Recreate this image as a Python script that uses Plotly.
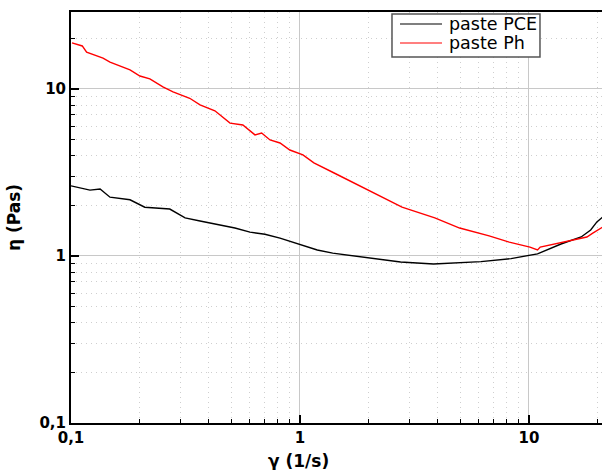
import plotly.graph_objects as go

# shear rate (1/s) and viscosity (Pa s)
pce_x = [0.1, 0.121, 0.134, 0.148, 0.181, 0.21, 0.27, 0.315, 0.366, 0.425, 0.52, 0.605,
         0.703, 0.818, 1.01, 1.19, 1.39, 1.97, 2.75, 3.83, 4.98, 6.17, 8.35, 10.9,
         13.8, 16.9, 18.6, 19.8, 21.0]
pce_y = [2.63, 2.48, 2.52, 2.25, 2.17, 1.96, 1.91, 1.69, 1.62, 1.55, 1.47, 1.39,
         1.35, 1.28, 1.16, 1.086, 1.04, 0.973, 0.92, 0.896, 0.908, 0.925, 0.965, 1.03,
         1.18, 1.30, 1.43, 1.60, 1.71]

ph_x = [0.101, 0.112, 0.117, 0.138, 0.148, 0.181, 0.2, 0.221, 0.252, 0.279, 0.33, 0.366,
        0.425, 0.495, 0.563, 0.636, 0.68, 0.74, 0.818, 0.903, 1.03, 1.15, 1.41, 2.0,
        2.79, 3.88, 4.98, 6.7, 8.2, 10.1, 10.9, 11.2, 13.7, 17.9, 19.0, 21.0]
ph_y = [18.9, 18.1, 16.6, 15.3, 14.5, 13.0, 11.96, 11.5, 10.3, 9.6, 8.8, 8.03,
        7.4, 6.25, 6.09, 5.31, 5.45, 4.95, 4.75, 4.31, 4.03, 3.61, 3.14, 2.48,
        1.96, 1.69, 1.47, 1.32, 1.21, 1.13, 1.086, 1.13, 1.196, 1.30, 1.37, 1.49]

tick_vals = [0.1, 1, 10]
tick_text = ["0,1", "1", "10"]
minor_vals = [0.2, 0.3, 0.4, 0.5, 0.6, 0.7, 0.8, 0.9,
              2, 3, 4, 5, 6, 7, 8, 9, 20]

series_names = ["paste PCE", "paste Ph"]
series_colors = ["black", "#ff0000"]

fig = go.Figure()
fig.add_trace(go.Scatter(x=pce_x, y=pce_y, mode="lines", name=series_names[0],
                         line=dict(color=series_colors[0], width=1.4), showlegend=False))
fig.add_trace(go.Scatter(x=ph_x, y=ph_y, mode="lines", name=series_names[1],
                         line=dict(color=series_colors[1], width=1.4), showlegend=False))

common = dict(
    type="log",
    tickvals=tick_vals, ticktext=tick_text,
    ticks="inside", ticklen=8, tickwidth=1.5, tickcolor="black",
    showline=True, linecolor="black", linewidth=2,
    showgrid=True, gridcolor="#c8c8c8", gridwidth=1,
    zeroline=False,
    tickfont=dict(family="DejaVu Sans", size=15, color="black", weight="bold"),
    minor=dict(tickvals=minor_vals, ticks="inside", ticklen=4, tickwidth=1,
               tickcolor="black", showgrid=True, gridcolor="#cfcfcf",
               griddash="1px,4px", gridwidth=1),
)

# legend drawn as a box with sample lines and labels (paper coordinates)
box = dict(x0=0.6045, x1=0.8832, y0=0.8905, y1=0.9951)
row_y = [0.9708, 0.9246]
shapes = [dict(type="rect", xref="paper", yref="paper", **box,
               line=dict(color="#555555", width=1.5), fillcolor="white", layer="above")]
annotations = []
for name, color, yy in zip(series_names, series_colors, row_y):
    shapes.append(dict(type="line", xref="paper", yref="paper",
                       x0=0.6196, x1=0.6987, y0=yy, y1=yy,
                       line=dict(color=color, width=1.2), layer="above"))
    annotations.append(dict(text=name, xref="paper", yref="paper", x=0.708, y=yy,
                            xanchor="left", yanchor="middle", showarrow=False,
                            font=dict(family="DejaVu Sans", size=17.5, color="black")))

annotations.append(dict(text="γ (1/s)", xref="paper", yref="paper", x=0.429, y=-0.0925,
                        xanchor="center", yanchor="middle", showarrow=False,
                        font=dict(family="DejaVu Sans", size=17, color="black", weight="bold")))

fig.update_layout(
    width=602, height=470,
    margin=dict(l=71, r=0, t=12, b=47),
    paper_bgcolor="white", plot_bgcolor="white",
    font=dict(family="DejaVu Sans", color="black"),
    xaxis=dict(range=[-1, 1.319], mirror=True, **common),
    yaxis=dict(range=[-1, 1.461],
               title=dict(text="η (Pas)", standoff=14,
                          font=dict(family="DejaVu Sans", size=17, color="black", weight="bold")),
               **common),
    shapes=shapes,
    annotations=annotations,
    showlegend=False,
)

fig.write_html("out.html")
